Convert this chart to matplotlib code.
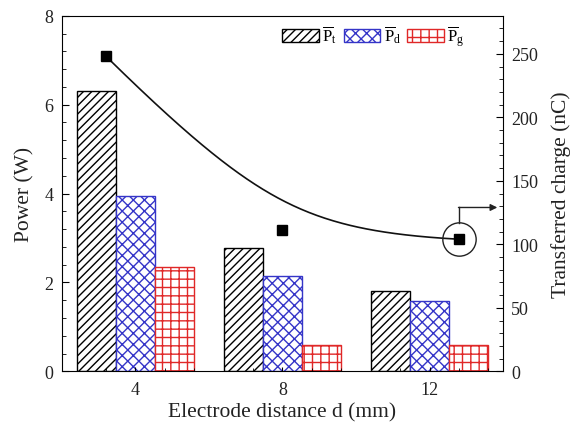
import numpy as np
import matplotlib
matplotlib.use('Agg')
import matplotlib.pyplot as plt
from matplotlib.ticker import MultipleLocator

plt.rcParams['font.family'] = 'serif'
plt.rcParams['font.serif'] = ['Liberation Serif', 'DejaVu Serif']
plt.rcParams['mathtext.fontset'] = 'custom'
plt.rcParams['mathtext.rm'] = 'Liberation Serif'
plt.rcParams['mathtext.it'] = 'Liberation Serif:italic'
plt.rcParams['hatch.linewidth'] = 1.0

# electrode distance (mm)
distance = [4, 8, 12]
dist_labels = ['4', '8', '12']

# average power (W)
p_t = [6.30, 2.78, 1.80]
p_d = [3.95, 2.15, 1.58]
p_g = [2.35, 0.60, 0.60]

# transferred charge (nC)
charge = [248, 111.6, 104]

fig = plt.figure(figsize=(5.76, 4.31), dpi=100)
rect = [0.1076, 0.1362, 0.7657, 0.8250]
ax = fig.add_axes(rect)

pos = np.arange(len(distance))
w = 0.266
b1 = ax.bar(pos - w, p_t, w, facecolor='white', edgecolor='black', hatch='////', lw=1.0,
            label=r'$\overline{\mathrm{P}}_\mathrm{t}$')
b2 = ax.bar(pos, p_d, w, facecolor='white', edgecolor='#3535c8', hatch='xxx', lw=1.0,
            label=r'$\overline{\mathrm{P}}_\mathrm{d}$')
b3 = ax.bar(pos + w, p_g, w, facecolor='white', edgecolor='#e02828', hatch='++', lw=1.0,
            label=r'$\overline{\mathrm{P}}_\mathrm{g}$')

ax.set_xlim(-0.5, 2.5)
ax.set_ylim(0, 8)
ax.set_xticks(pos)
ax.set_xticklabels(dist_labels)
ax.xaxis.set_minor_locator(MultipleLocator(0.2))
ax.yaxis.set_major_locator(MultipleLocator(2))
ax.yaxis.set_minor_locator(MultipleLocator(0.4))
ax.tick_params(axis='y', which='major', direction='in', length=5, labelsize=13, pad=6,
               right=False, labelcolor='#222222')
ax.tick_params(axis='y', which='minor', direction='in', length=3, right=False)
ax.tick_params(axis='x', which='major', direction='in', length=3, labelsize=13, pad=7,
               top=False, labelcolor='#222222')
ax.tick_params(axis='x', which='minor', direction='in', length=2, top=False)
ax.set_xlabel('Electrode distance d (mm)', fontsize=15.5, labelpad=3, color='#222222')
ax.set_ylabel('Power (W)', fontsize=15.5, labelpad=7, color='#222222')

leg = ax.legend(handles=[b1, b2, b3], loc='center left', bbox_to_anchor=(0.5, 0.943),
                ncol=3, frameon=False, fontsize=12, handlelength=2.2, handleheight=0.8,
                handletextpad=0.2, columnspacing=0.4, borderpad=0, borderaxespad=0)

# charge on its own axes, x running 3..13 mm
ax2 = fig.add_axes(rect, frameon=False)
ax2.set_xlim(3, 13)
ax2.set_ylim(0, 280)
ax2.xaxis.set_visible(False)
ax2.yaxis.tick_right()
ax2.yaxis.set_label_position('right')
ax2.yaxis.set_major_locator(MultipleLocator(50))
ax2.yaxis.set_minor_locator(MultipleLocator(10))
ax2.tick_params(axis='y', which='major', direction='in', length=5, labelsize=13, pad=6,
                labelcolor='#222222')
ax2.tick_params(axis='y', which='minor', direction='in', length=3)
ax2.set_ylabel('Transferred charge (nC)', fontsize=15.5, labelpad=9, color='#222222')

# smooth trend through the three points (rational quadratic B-spline)
px = np.array(distance, dtype=float)
py = np.array(charge, dtype=float)
t = np.linspace(0, 1, 200)
wt = 1.8
b0, bm, b2w = (1 - t) ** 2, 2 * wt * t * (1 - t), t ** 2
den = b0 + bm + b2w
cx = (b0 * px[0] + bm * px[1] + b2w * px[2]) / den
cy = (b0 * py[0] + bm * py[1] + b2w * py[2]) / den
ax2.plot(cx, cy, color='#111111', lw=1.2)
ax2.plot(px, py, 's', color='black', ms=6.5)

# circle the last point and point it to the right axis
ax2.plot(px[2], py[2], 'o', ms=24, mfc='none', mec='#222222', mew=1.0)
ax2.plot([px[2], px[2]], [py[2] + 13, py[2] + 25], color='#222222', lw=1.0)
ax2.annotate('', xy=(12.87, py[2] + 25), xytext=(px[2] - 0.01, py[2] + 25),
             arrowprops=dict(arrowstyle='-|>', color='#222222', lw=1.0,
                             mutation_scale=10, shrinkA=0, shrinkB=0))

fig.savefig('out.png', dpi=100)
